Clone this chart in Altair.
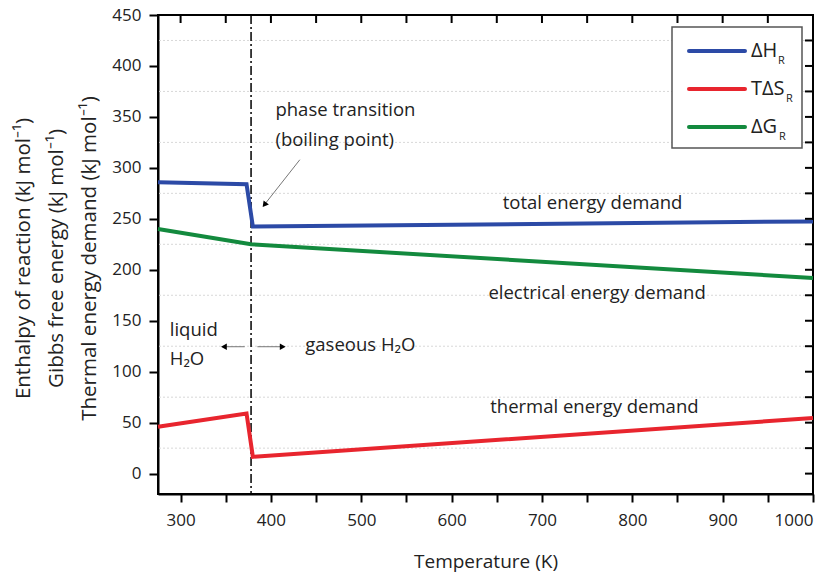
import altair as alt
import pandas as pd

# ---------------- data ----------------
T_H = [275, 373, 380, 1000]
dH = [286, 284, 242.5, 247.5]
T_S = [275, 373, 380, 1000]
TdS = [46, 59, 16.5, 54.5]
T_G = [275, 378, 1000]
dG = [240, 225, 192]

series = ["ΔH", "TΔS", "ΔG"]
colors = ["#2c4aa6", "#e8252e", "#138a3e"]

boiling_T = 378
x_ticks = list(range(300, 1001, 50))
y_ticks = list(range(0, 451, 25))
grid_y = list(range(25, 426, 50))

ann_text = ["phase transition", "(boiling point)", "liquid", "H₂O", "gaseous H₂O",
            "total energy demand", "electrical energy demand", "thermal energy demand"]
ann_T = [405, 405, 288, 288, 438, 756, 761, 758]
ann_v = [357, 327, 141, 112, 126, 265.5, 177.5, 65.7]
ann_align = ["left", "left", "left", "left", "left", "center", "center", "center"]

# arrows: (T1, v1) -> (T2, v2)
arr_T1 = [432, 371, 385]
arr_v1 = [308, 124.5, 124.5]
arr_T2 = [392, 348, 414]
arr_v2 = [263, 124.5, 124.5]
head_T = [393.5, 349, 412]
head_v = [264.5, 124.5, 124.5]
head_angle = [218, 270, 90]

W, H = 655, 479
FONT = "Open Sans"

rows = []
for s, Ts, vs in zip(series, [T_H, T_S, T_G], [dH, TdS, dG]):
    for t, v in zip(Ts, vs):
        rows.append({"s": s, "T": t, "v": v})
df = pd.DataFrame(rows)

xs = alt.Scale(domain=[275, 1000], nice=False, zero=False)
ys = alt.Scale(domain=[-20, 450], nice=False, zero=False)

x_axis = alt.Axis(values=x_ticks, format="d",
                  labelExpr="datum.value % 100 == 0 ? datum.label : ''",
                  title="Temperature (K)", grid=False, tickSize=8, labelPadding=10,
                  titlePadding=24)
y_axis = alt.Axis(values=y_ticks, format="d",
                  labelExpr="datum.value % 50 == 0 ? datum.label : ''",
                  title=["Enthalpy of reaction  (kJ mol⁻¹)",
                         "Gibbs free energy  (kJ mol⁻¹)",
                         "Thermal energy demand  (kJ mol⁻¹)"],
                  grid=False, tickSize=9, labelPadding=8,
                  titleX=-125, titleY=243, titleBaseline="bottom", titleAlign="center",
                  titleLineHeight=33, titleFontSize=20.5)

grid = alt.Chart(pd.DataFrame({"v": grid_y})).mark_rule(
    color="#d8d8d8", strokeDash=[2, 2], strokeWidth=1
).encode(y=alt.Y("v:Q", scale=ys, axis=y_axis))

lines = alt.Chart(df).mark_line(strokeWidth=4).encode(
    x=alt.X("T:Q", scale=xs, axis=x_axis),
    y=alt.Y("v:Q", scale=ys, axis=y_axis),
    color=alt.Color("s:N", scale=alt.Scale(domain=series, range=colors), legend=None),
)

vline = alt.Chart(pd.DataFrame({"T": [boiling_T]})).mark_rule(
    color="black", strokeWidth=1.5, strokeDash=[9, 3, 2, 3]
).encode(x=alt.X("T:Q", scale=xs))

top_ticks = alt.Chart(pd.DataFrame({"T": x_ticks})).mark_rule(color="black", strokeWidth=2).encode(
    x=alt.X("T:Q", scale=xs), y=alt.value(0), y2=alt.value(8))
right_ticks = alt.Chart(pd.DataFrame({"v": y_ticks})).mark_rule(color="black", strokeWidth=2).encode(
    y=alt.Y("v:Q", scale=ys), x=alt.value(W - 8), x2=alt.value(W))

arrows = alt.Chart(pd.DataFrame({"T": arr_T1, "v": arr_v1, "T2": arr_T2, "v2": arr_v2})).mark_rule(
    color="#777777", strokeWidth=1).encode(
    x=alt.X("T:Q", scale=xs), y=alt.Y("v:Q", scale=ys), x2="T2:Q", y2="v2:Q")
heads = alt.Chart(pd.DataFrame({"T": head_T, "v": head_v, "a": head_angle})).mark_point(
    shape="triangle", filled=True, color="black", size=45, opacity=1).encode(
    x=alt.X("T:Q", scale=xs), y=alt.Y("v:Q", scale=ys), angle=alt.Angle("a:Q", scale=None))

ann_df = pd.DataFrame({"t": ann_text, "T": ann_T, "v": ann_v, "al": ann_align})
ann_left = alt.Chart(ann_df[ann_df.al == "left"]).mark_text(
    align="left", baseline="middle", font=FONT, fontSize=18.5, color="#222222").encode(
    x=alt.X("T:Q", scale=xs), y=alt.Y("v:Q", scale=ys), text="t:N")
ann_center = alt.Chart(ann_df[ann_df.al == "center"]).mark_text(
    align="center", baseline="middle", font=FONT, fontSize=18.5, color="#222222").encode(
    x=alt.X("T:Q", scale=xs), y=alt.Y("v:Q", scale=ys), text="t:N")

# ---------------- manual legend ----------------
leg = pd.DataFrame({"s": series, "i": [0, 1, 2], "sub_dx": [27, 35, 28]})
leg["ly"] = 36 + 38 * leg["i"]
leg["x1"] = 531
leg["x2"] = 587
leg["tx"] = 593
leg["sx"] = leg["tx"] + leg["sub_dx"]
leg["sy"] = leg["ly"] + 10
leg["sub"] = "R"

box = alt.Chart(pd.DataFrame({"a": [0]})).mark_rect(
    fill="white", stroke="#555555", strokeWidth=1.5).encode(
    x=alt.value(514), x2=alt.value(644), y=alt.value(12), y2=alt.value(133))
leg_lines = alt.Chart(leg).mark_rule(strokeWidth=4, strokeCap="round").encode(
    x=alt.X("x1:Q", scale=None), x2="x2:Q", y=alt.Y("ly:Q", scale=None),
    color=alt.Color("s:N", scale=alt.Scale(domain=series, range=colors), legend=None))
leg_text = alt.Chart(leg).mark_text(align="left", baseline="middle", font=FONT, fontSize=20,
                                    color="#222222").encode(
    x=alt.X("tx:Q", scale=None), y=alt.Y("ly:Q", scale=None), text="s:N")
leg_sub = alt.Chart(leg).mark_text(align="left", baseline="middle", font=FONT, fontSize=11,
                                   color="#222222").encode(
    x=alt.X("sx:Q", scale=None), y=alt.Y("sy:Q", scale=None), text="sub:N")

chart = alt.layer(
    grid, vline, lines, top_ticks, right_ticks, arrows, heads, ann_left, ann_center,
    box, leg_lines, leg_text, leg_sub
).properties(
    width=W, height=H,
    autosize=alt.AutoSizeParams(type="none"),
    padding={"left": 150, "top": 7, "right": 16, "bottom": 79},
    background="white",
).configure_view(
    stroke="black", strokeWidth=2
).configure_axis(
    domainColor="black", domainWidth=2, tickColor="black", tickWidth=2,
    labelFont=FONT, labelFontSize=17, labelColor="#222222",
    titleFont=FONT, titleFontSize=19, titleFontWeight="normal", titleColor="#222222",
)

chart.save("out.html", embed_options={"renderer": "svg", "actions": False})
